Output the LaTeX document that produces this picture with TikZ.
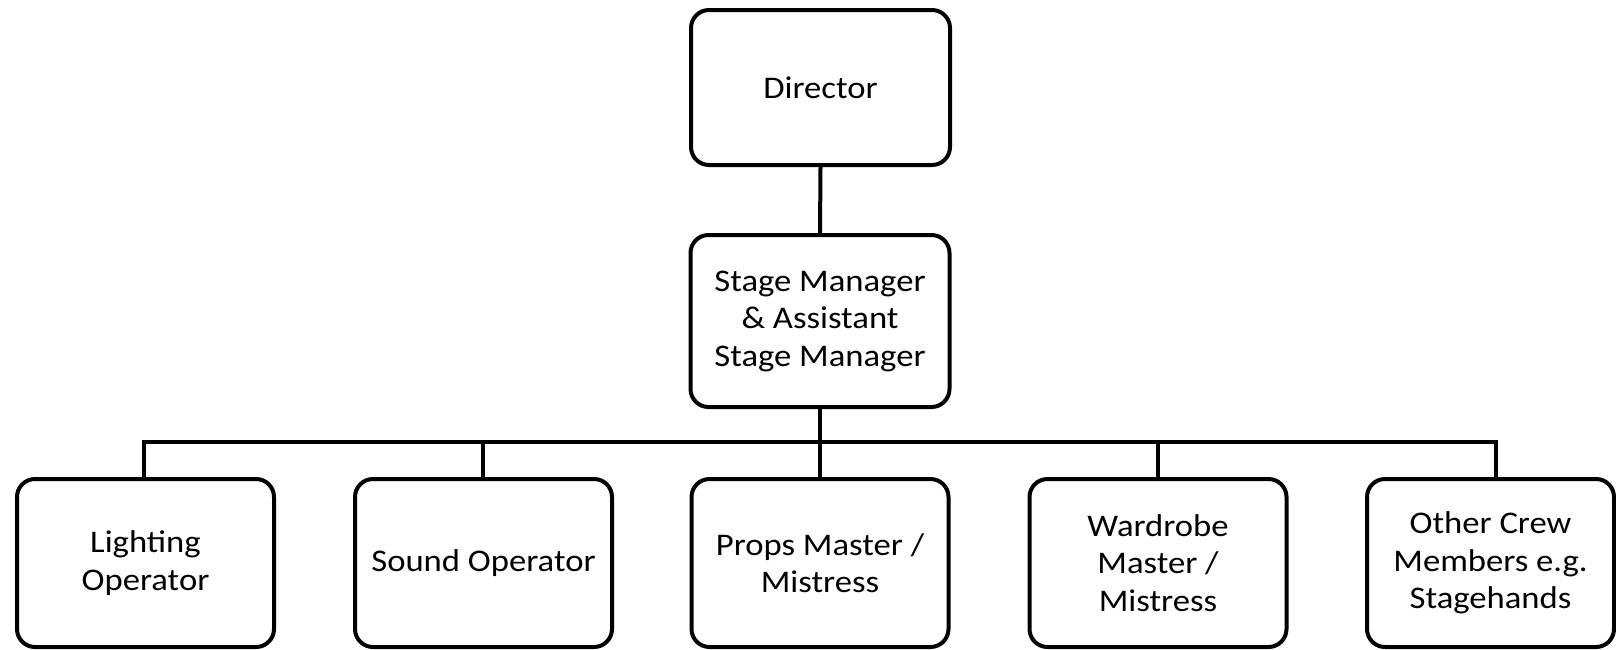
\documentclass[tikz,border=0pt]{standalone}
\usepackage{fontspec}
\setmainfont{Carlito}[FakeStretch=1.1]
\begin{document}
\begin{tikzpicture}[x=1pt,y=-1pt,
  box/.style={draw, line width=4pt, rounded corners=18pt, align=center, inner sep=0pt,
    fill=white, font=\fontsize{31.5}{37.5}\selectfont},
  topbox/.style={box, minimum width=259pt},
  rowbox/.style={box, minimum width=257pt, minimum height=168pt},
  conn/.style={line width=4pt}]
\useasboundingbox (0,0) rectangle (1616,649);
% bus coordinates
\coordinate (bj) at (820,442);
\coordinate (b1) at (144,442);
\coordinate (b2) at (483,442);
\coordinate (b3) at (820,442);
\coordinate (b4) at (1158,442);
\coordinate (b5) at (1496,442);
% nodes
\node[topbox, minimum height=155pt] (dir) at (820.5,87.5) {Director};
\node[topbox, minimum height=172pt] (sm) at (820,321) {Stage Manager\\\& Assistant\\Stage Manager};
\node[rowbox] (light) at (145.5,563) {Lighting\\Operator};
\node[rowbox] (sound) at (483.5,563) {Sound Operator};
\node[rowbox] (props) at (820,563) {Props Master /\\Mistress};
\node[rowbox] (ward) at (1158,563) {Wardrobe\\Master /\\Mistress};
\node[box, minimum width=247pt, minimum height=168pt] (other) at (1490.5,563) {Other Crew\\Members e.g.\\Stagehands};
% connectors
\draw[conn] (dir.south) -- (sm.north);
\draw[conn] (sm.south) -- (bj);
\draw[conn] (b1 |- light.north) -- (b1) -- (b5) -- (b5 |- other.north);
\draw[conn] (b2) -- (b2 |- sound.north);
\draw[conn] (b3) -- (b3 |- props.north);
\draw[conn] (b4) -- (b4 |- ward.north);
\end{tikzpicture}
\end{document}
